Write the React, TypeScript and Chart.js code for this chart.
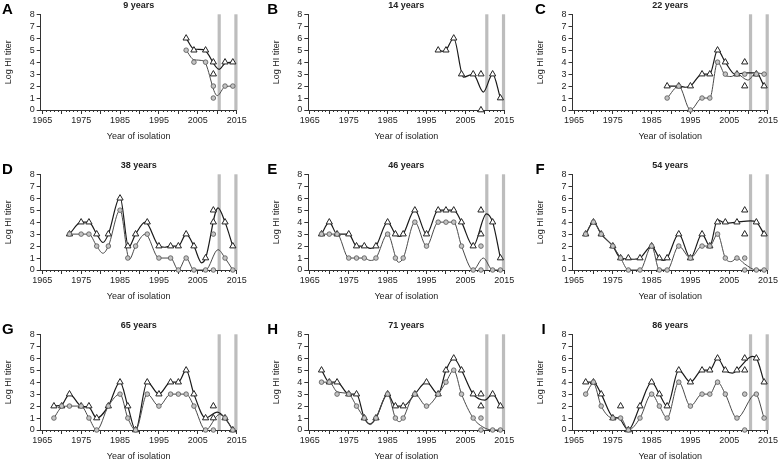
import React, { useEffect, useRef } from 'react';
import { Chart, registerables } from 'chart.js';
Chart.register(...registerables);

type P = [number, number];

// ---------- shared axis values ----------
const xMin = 1964.6;
const xMax = 2015;
const xLabelYears = [1965, 1975, 1985, 1995, 2005, 2015];
const yTicks = [0, 1, 2, 3, 4, 5, 6, 7, 8];
const markerYears = [2010.5, 2014.8];
const minorTickYears: number[] = Array.from({ length: 51 }, (_, i) => 1965 + i);

// ---------- panel data (year, log HI titer) ----------
const A_tri: P[] = [[2002, 6], [2004, 5], [2007, 5], [2009, 4], [2009, 3], [2012, 4], [2014, 4]];
const A_circ: P[] = [[2002, 5], [2004, 4], [2007, 4], [2009, 2], [2009, 1], [2012, 2], [2014, 2]];
const A_triFit: P[] = [[2002, 6], [2004, 5.1], [2006.5, 5.05], [2010.5, 3.4], [2012, 3.9], [2014, 4]];
const A_circFit: P[] = [[2002, 5], [2004, 4.2], [2006.5, 4.1], [2010, 1.2], [2012, 1.95], [2014, 2]];

const B_tri: P[] = [[1998, 5], [2000, 5], [2002, 6], [2004, 3], [2007, 3], [2009, 3], [2009, 0], [2012, 3], [2014, 1]];
const B_circ: P[] = [];
const B_triFit: P[] = [[1998, 5], [1999.3, 4.9], [2000, 5], [2002, 6], [2004.5, 2.75], [2007, 3], [2009.6, 1.5], [2012, 3], [2014, 1]];
const B_circFit: P[] = [];

const C_tri: P[] = [[1989, 2], [1992, 2], [1995, 2], [1998, 3], [2000, 3], [2002, 5], [2004, 4], [2007, 3], [2009, 4], [2009, 2], [2012, 3], [2014, 2]];
const C_circ: P[] = [[1989, 1], [1992, 2], [1995, 0], [1998, 1], [2000, 1], [2002, 4], [2004, 3], [2007, 3], [2009, 3], [2012, 3], [2014, 3]];
const C_triFit: P[] = [[1989, 2], [1992, 2], [1993.8, 1.9], [1995, 2], [1998, 3], [2000, 3], [2002, 5], [2004, 4], [2006.5, 3], [2009.5, 3.1], [2012, 3.1], [2014, 2]];
const C_circFit: P[] = [[1989, 1], [1992, 2], [1995, 0], [1998, 1], [2000, 1], [2002, 4], [2004, 2.9], [2005.5, 2.8], [2007, 3], [2009.8, 2.5], [2012, 3.1], [2014, 3]];

const D_tri: P[] = [[1972, 3], [1975, 4], [1977, 4], [1979, 3], [1982, 3], [1985, 6], [1987, 2], [1989, 3], [1992, 4], [1995, 2], [1998, 2], [2000, 2], [2002, 3], [2004, 2], [2007, 1], [2009, 5], [2009, 4], [2012, 4], [2014, 2]];
const D_circ: P[] = [[1972, 3], [1975, 3], [1977, 3], [1979, 2], [1982, 2], [1985, 5], [1987, 1], [1989, 2], [1992, 3], [1995, 1], [1998, 1], [2000, 0], [2002, 1], [2004, 0], [2007, 0], [2009, 3], [2009, 0], [2012, 1], [2014, 0]];
const D_triFit: P[] = [[1972, 3], [1975, 4], [1977, 4], [1979, 3], [1980.6, 2.3], [1982, 3], [1985, 6.1], [1987.2, 1.9], [1989, 3], [1991.5, 4], [1995, 2], [1996.5, 1.9], [1998, 2], [2000, 2], [2002, 3], [2004, 2], [2006, 0.6], [2007, 1], [2010.2, 5.2], [2012, 4], [2014, 2]];
const D_circFit: P[] = [[1972, 3], [1975, 3], [1977, 3], [1979, 2], [1980.6, 1.4], [1982, 2], [1985, 5], [1987.4, 0.9], [1989, 2], [1991.5, 3], [1995, 1], [1998, 1], [2000, 0], [2002, 1], [2004, 0], [2007, 0], [2010.2, 1.7], [2012, 1], [2014, 0]];

const E_tri: P[] = [[1968, 3], [1970, 4], [1972, 3], [1975, 3], [1977, 2], [1979, 2], [1982, 2], [1985, 4], [1987, 3], [1989, 3], [1992, 5], [1995, 3], [1998, 5], [2000, 5], [2002, 5], [2004, 4], [2007, 2], [2009, 5], [2009, 3], [2012, 4], [2014, 1]];
const E_circ: P[] = [[1968, 3], [1970, 3], [1972, 3], [1975, 1], [1977, 1], [1979, 1], [1982, 1], [1985, 3], [1987, 1], [1989, 1], [1992, 4], [1995, 2], [1998, 4], [2000, 4], [2002, 4], [2004, 2], [2007, 0], [2009, 2], [2009, 0], [2012, 0], [2014, 0]];
const E_triFit: P[] = [[1968, 3], [1970, 4], [1972, 3], [1975, 3], [1977, 2], [1979, 2], [1980.5, 1.8], [1982, 2], [1985, 4], [1987, 3], [1988, 2.8], [1989, 3], [1992, 5], [1995, 3], [1998, 5], [2000, 5], [2002, 5], [2004, 4], [2007, 2], [2010.4, 4.7], [2012, 4], [2014, 1]];
const E_circFit: P[] = [[1968, 3], [1970, 3], [1972, 3], [1975, 1], [1977, 1], [1979, 1], [1980.5, 0.8], [1982, 1], [1985, 3], [1987.8, 0.65], [1989, 1], [1992, 4], [1995, 2], [1998, 4], [2000, 4], [2002, 4], [2004, 2], [2007, 0], [2009.6, 1], [2012, 0], [2014, 0]];

const F_tri: P[] = [[1968, 3], [1970, 4], [1972, 3], [1975, 2], [1977, 1], [1979, 1], [1982, 1], [1985, 2], [1987, 1], [1989, 1], [1992, 3], [1995, 1], [1998, 3], [2000, 2], [2002, 4], [2004, 4], [2007, 4], [2009, 5], [2009, 3], [2012, 4], [2014, 3]];
const F_circ: P[] = [[1968, 3], [1970, 4], [1972, 3], [1975, 2], [1977, 1], [1979, 0], [1982, 0], [1985, 2], [1987, 0], [1989, 0], [1992, 2], [1995, 1], [1998, 2], [2000, 2], [2002, 3], [2004, 1], [2007, 1], [2009, 1], [2009, 0], [2012, 0], [2014, 0]];
const F_triFit: P[] = [[1968, 3], [1970, 4], [1972, 3], [1975, 2], [1977, 1], [1980.5, 0.9], [1982, 1], [1985, 2], [1987, 1], [1988, 0.8], [1989, 1], [1992, 3], [1995, 1], [1998, 3], [2000, 2], [2002, 4.2], [2004, 3.9], [2007, 4], [2010.5, 4.1], [2012, 4], [2014, 3]];
const F_circFit: P[] = [[1968, 3], [1970, 4], [1972, 3], [1975, 2], [1977, 1], [1979, 0], [1982, 0], [1985, 2], [1987, 0], [1989, 0], [1992, 2], [1995, 1], [1998, 2], [2000, 2], [2002, 3], [2004, 1], [2005.5, 0.7], [2007, 1], [2009, 0.5], [2012, 0], [2014, 0]];

const G_tri: P[] = [[1968, 2], [1970, 2], [1972, 3], [1975, 2], [1977, 2], [1979, 1], [1982, 2], [1985, 4], [1987, 2], [1989, 0], [1992, 4], [1995, 3], [1998, 4], [2000, 4], [2002, 5], [2004, 3], [2007, 1], [2009, 2], [2009, 1], [2012, 1], [2014, 0]];
const G_circ: P[] = [[1968, 1], [1970, 2], [1972, 2], [1975, 2], [1977, 1], [1979, 0], [1982, 2], [1985, 3], [1987, 1], [1989, 0], [1992, 3], [1995, 2], [1998, 3], [2000, 3], [2002, 3], [2004, 2], [2007, 0], [2009, 0], [2012, 1], [2014, 0]];
const G_triFit: P[] = [[1968, 2], [1970, 2.1], [1972, 3], [1975, 2], [1977, 1.9], [1979, 1], [1982, 2], [1985, 4], [1987, 2], [1989, 0], [1992, 4], [1995, 3], [1998, 4], [2000, 4], [2002, 5], [2004, 3], [2007, 1], [2010, 1.5], [2012, 1], [2014, 0]];
const G_circFit: P[] = [[1968, 1], [1970, 1.9], [1972, 2], [1975, 2], [1977, 1], [1979, 0], [1982, 2], [1985, 3], [1987, 1], [1989, 0], [1992, 3], [1995, 2], [1998, 3], [2000, 3], [2002, 3], [2004, 2], [2007, 0], [2010.6, 1.3], [2012, 1], [2014, 0]];

const H_tri: P[] = [[1968, 5], [1970, 4], [1972, 4], [1975, 3], [1977, 3], [1979, 1], [1982, 1], [1985, 3], [1987, 2], [1989, 2], [1992, 3], [1995, 4], [1998, 3], [2000, 5], [2002, 6], [2004, 5], [2007, 3], [2009, 3], [2009, 2], [2012, 3], [2014, 2]];
const H_circ: P[] = [[1968, 4], [1970, 4], [1972, 3], [1975, 3], [1977, 2], [1979, 1], [1982, 1], [1985, 3], [1987, 1], [1989, 1], [1992, 3], [1995, 2], [1998, 3], [2000, 4], [2002, 5], [2004, 3], [2007, 1], [2009, 1], [2009, 0], [2012, 0], [2014, 0]];
const H_triFit: P[] = [[1968, 5], [1970, 4], [1972, 4], [1975, 3], [1977, 3], [1979, 1], [1980.5, 0.5], [1982, 1], [1985, 3], [1987, 2], [1989, 2], [1992, 3], [1995, 4], [1998, 3], [2000, 5], [2002, 6], [2004, 5], [2007, 3], [2010, 2.5], [2012, 3], [2014, 2]];
const H_circFit: P[] = [[1968, 4], [1970, 4], [1972, 3.2], [1975, 3], [1977, 2], [1979, 1], [1980.5, 0.45], [1982, 1], [1985, 3], [1987, 1], [1988, 0.7], [1989, 1], [1992, 3], [1995, 2], [1998, 3], [2000, 4], [2002, 5], [2004, 3], [2007, 1], [2009.5, 0.25], [2012, 0], [2014, 0]];

const I_tri: P[] = [[1968, 4], [1970, 4], [1972, 3], [1975, 1], [1977, 2], [1979, 0], [1982, 2], [1985, 4], [1987, 3], [1989, 2], [1992, 5], [1995, 4], [1998, 5], [2000, 5], [2002, 6], [2004, 5], [2007, 5], [2009, 6], [2009, 5], [2012, 6], [2014, 4]];
const I_circ: P[] = [[1968, 3], [1970, 4], [1972, 2], [1975, 1], [1977, 1], [1979, 0], [1982, 1], [1985, 3], [1987, 2], [1989, 1], [1992, 4], [1995, 2], [1998, 3], [2000, 3], [2002, 4], [2004, 3], [2007, 1], [2009, 3], [2009, 0], [2012, 3], [2014, 1]];
const I_triFit: P[] = [[1968, 4], [1970, 4], [1972, 3], [1975, 1.1], [1976.5, 1], [1979, 0], [1982, 2], [1985, 4], [1987, 3], [1989, 2], [1992, 5], [1995, 4], [1998, 5], [2000, 5], [2002, 6], [2004, 5], [2005.8, 4.75], [2007, 5], [2011, 6.15], [2012, 6], [2014, 4]];
const I_circFit: P[] = [[1968, 3], [1970, 3.9], [1972, 2], [1975, 1], [1977, 1], [1979, 0], [1982, 1], [1985, 3], [1987, 2], [1989, 1], [1992, 4], [1995, 2], [1998, 3], [2000, 3], [2002, 4], [2004, 3], [2007, 1], [2011.8, 3], [2014, 1]];

// ---------- panel descriptions ----------
const panelLetters = ['A', 'B', 'C', 'D', 'E', 'F', 'G', 'H', 'I'];
const panelTitles = ['9 years', '14 years', '22 years', '38 years', '46 years', '54 years', '65 years', '71 years', '86 years'];
const panelTri = [A_tri, B_tri, C_tri, D_tri, E_tri, F_tri, G_tri, H_tri, I_tri];
const panelCirc = [A_circ, B_circ, C_circ, D_circ, E_circ, F_circ, G_circ, H_circ, I_circ];
const panelTriFit = [A_triFit, B_triFit, C_triFit, D_triFit, E_triFit, F_triFit, G_triFit, H_triFit, I_triFit];
const panelCircFit = [A_circFit, B_circFit, C_circFit, D_circFit, E_circFit, F_circFit, G_circFit, H_circFit, I_circFit];

// ---------- layout ----------
const CANVAS_W = 260;
const CANVAS_H = 141;
const colLeft = [0, 260, 519];
const rowTop = [0, 160, 320];
const axisLeft = [40.7, 48.3, 53.5];
const plotW = 196;
const plotTop = 14.3;
const xAxisH = 31;
const letterX = [[2, 7.3, 16], [2, 7.3, 16.5], [2, 7.3, 22.5]];

const FONT = '"Liberation Sans", Arial, Helvetica, sans-serif';
const TEXT = '#222';

const toXY = (arr: P[]) => arr.map(([x, y]) => ({ x, y }));

function Panel({ idx }: { idx: number }) {
  const ref = useRef<HTMLCanvasElement>(null);
  const col = idx % 3;
  const row = Math.floor(idx / 3);

  useEffect(() => {
    const canvas = ref.current;
    if (!canvas) return;
    const letter = panelLetters[idx];
    const title = panelTitles[idx];

    const decor = {
      id: 'decor',
      beforeDatasetsDraw(chart: any) {
        const { ctx, chartArea: a, scales } = chart;
        const x = scales.x;
        ctx.save();
        ctx.fillStyle = '#bdbdbd';
        for (const yr of markerYears) {
          const px = x.getPixelForValue(yr);
          ctx.fillRect(px - 1.6, a.top, 3.2, a.bottom - a.top);
        }
        ctx.strokeStyle = '#333';
        ctx.lineWidth = 1;
        ctx.beginPath();
        for (const yr of minorTickYears) {
          if (yr % 5 === 0) continue;
          const px = Math.round(x.getPixelForValue(yr)) + 0.5;
          ctx.moveTo(px, a.bottom);
          ctx.lineTo(px, a.bottom + 2);
        }
        ctx.stroke();
        ctx.restore();
      },
      afterDraw(chart: any) {
        const { ctx, chartArea: a } = chart;
        const cx = (a.left + a.right) / 2;
        const cy = (a.top + a.bottom) / 2;
        ctx.save();
        ctx.fillStyle = '#000';
        ctx.font = `bold 15px ${FONT}`;
        ctx.textAlign = 'left';
        ctx.textBaseline = 'alphabetic';
        ctx.fillText(letter, letterX[row][col], 14.3);

        ctx.fillStyle = TEXT;
        ctx.font = `bold 9px ${FONT}`;
        ctx.textAlign = 'center';
        ctx.textBaseline = 'middle';
        ctx.fillText(title, cx, 5.5);

        ctx.font = `9px ${FONT}`;
        ctx.fillText('Year of isolation', cx, a.bottom + 27);

        ctx.translate(a.left - 32, cy);
        ctx.rotate(-Math.PI / 2);
        ctx.fillText('Log HI titer', 0, 0);
        ctx.restore();
      },
    };

    const datasets: any[] = [];
    if (panelCirc[idx].length) {
      datasets.push({
        label: 'circles',
        data: toXY(panelCirc[idx]),
        pointStyle: 'circle',
        pointRadius: 2.3,
        pointBackgroundColor: '#c4c4c4',
        pointBorderColor: '#555',
        pointBorderWidth: 0.8,
        showLine: false,
        clip: false,
      });
    }
    datasets.push({
      label: 'triangles',
      data: toXY(panelTri[idx]),
      pointStyle: 'triangle',
      pointRadius: 3.6,
      pointBackgroundColor: '#ffffff',
      pointBorderColor: '#222',
      pointBorderWidth: 1,
      showLine: false,
      clip: false,
    });
    if (panelCircFit[idx].length) {
      datasets.push({
        label: 'circle fit',
        data: toXY(panelCircFit[idx]),
        showLine: true,
        pointRadius: 0,
        borderColor: '#4a4a4a',
        borderWidth: 1,
        cubicInterpolationMode: 'monotone',
        fill: false,
      });
    }
    datasets.push({
      label: 'triangle fit',
      data: toXY(panelTriFit[idx]),
      showLine: true,
      pointRadius: 0,
      borderColor: '#1a1a1a',
      borderWidth: 1.2,
      cubicInterpolationMode: 'monotone',
      fill: false,
    });

    const chart = new Chart(canvas, {
      type: 'scatter',
      data: { datasets },
      options: {
        animation: false,
        responsive: false,
        events: [],
        layout: {
          padding: { left: 0, top: plotTop, bottom: 0, right: CANVAS_W - axisLeft[col] - plotW },
        },
        plugins: { legend: { display: false }, tooltip: { enabled: false }, title: { display: false } },
        scales: {
          x: {
            type: 'linear',
            min: xMin,
            max: xMax,
            afterFit: (s: any) => { s.height = xAxisH; },
            afterBuildTicks: (s: any) => { s.ticks = minorTickYears.filter((v) => v % 5 === 0).map((v) => ({ value: v })); },
            ticks: {
              autoSkip: false,
              maxRotation: 0,
              includeBounds: false,
              padding: 1,
              color: TEXT,
              font: { family: FONT, size: 9 },
              callback: (v: any) => (xLabelYears.includes(Number(v)) ? String(v) : ''),
            },
            grid: { display: true, drawOnChartArea: false, drawTicks: true, tickLength: 4, color: '#333', tickColor: '#333' },
            border: { display: true, color: '#333', width: 1 },
          },
          y: {
            type: 'linear',
            min: 0,
            max: 8,
            afterFit: (s: any) => { s.width = axisLeft[col]; },
            afterBuildTicks: (s: any) => { s.ticks = yTicks.map((v) => ({ value: v })); },
            ticks: {
              autoSkip: false,
              padding: 2,
              color: TEXT,
              font: { family: FONT, size: 9 },
            },
            grid: { display: true, drawOnChartArea: false, drawTicks: true, tickLength: 4, color: '#333', tickColor: '#333' },
            border: { display: true, color: '#333', width: 1 },
          },
        },
      },
      plugins: [decor],
    });
    return () => chart.destroy();
  }, [idx]);

  return (
    <canvas
      ref={ref}
      width={CANVAS_W}
      height={CANVAS_H}
      style={{ position: 'absolute', left: colLeft[col], top: rowTop[row], width: CANVAS_W, height: CANVAS_H }}
    />
  );
}

export default function App() {
  return (
    <div style={{ position: 'absolute', left: 0, top: 0, width: 779, height: 461, overflow: 'hidden', background: '#fff' }}>
      {panelLetters.map((_, i) => (
        <Panel key={i} idx={i} />
      ))}
    </div>
  );
}
